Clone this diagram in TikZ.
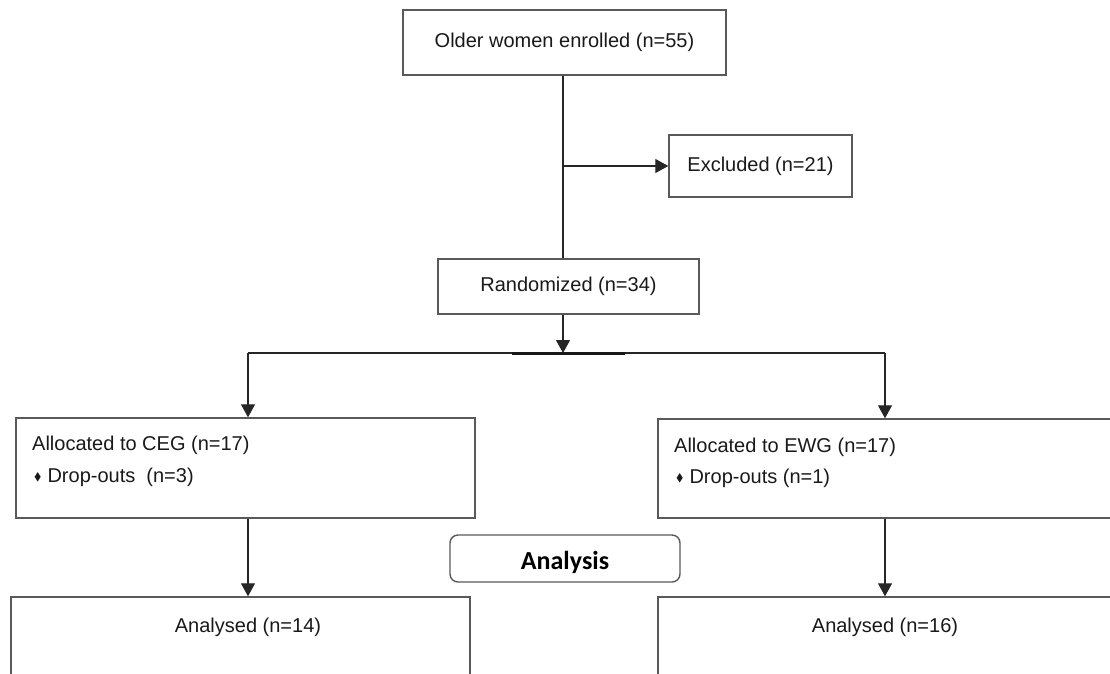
\documentclass[tikz,border=0pt]{standalone}
\usepackage{amssymb}
\usepackage{fontspec}
\setmainfont{Liberation Sans}
\newfontfamily\calib{Carlito}
\usetikzlibrary{arrows.meta,positioning}
\begin{document}
\begin{tikzpicture}[x=1pt,y=-1pt,
  box/.style={draw=black!65,line width=1.4pt,rectangle,inner sep=0pt},
  lbl/.style={font=\fontsize{20}{24}\selectfont,text=black!90,inner sep=0pt},
  conn/.style={draw=black!85,line width=1.1pt},
  arr/.style={conn,-{Triangle[width=14pt,length=13pt]}}]
\useasboundingbox (0,0) rectangle (1110,673);
\clip (0,0) rectangle (1110,673);
% boxes
\node[box,minimum width=323pt,minimum height=65pt] (top) at (564.5,42.5) {};
\node[lbl] at (top.center) {Older women enrolled (n=55)};
\node[box,minimum width=183pt,minimum height=62pt] (excl) at (760.5,166) {};
\node[lbl] at (excl.center) {Excluded (n=21)};
\node[box,minimum width=261pt,minimum height=55pt] (rand) at (568.5,286.5) {};
\node[lbl] at (rand.center) {Randomized (n=34)};
\node[box,minimum width=459pt,minimum height=100pt] (ceg) at (245.5,468) {};
\node[lbl,anchor=west] (cegt) at (32,445) {Allocated to CEG (n=17)};
\node[lbl,anchor=west] (cegd) at (34,477) {\raisebox{2pt}{\fontsize{11}{11}\selectfont$\blacklozenge$}\hspace{6pt}Drop-outs\ \ (n=3)};
\node[box,minimum width=472pt,minimum height=99pt] (ewg) at (894,468.5) {};
\node[lbl,anchor=west] (ewgt) at (674,447) {Allocated to EWG (n=17)};
\node[lbl,anchor=west] (ewgd) at (676,478) {\raisebox{2pt}{\fontsize{11}{11}\selectfont$\blacklozenge$}\hspace{6pt}Drop-outs (n=1)};
\node[draw=black!65,line width=1.4pt,rounded corners=8pt,minimum width=230pt,minimum height=47pt,inner sep=0pt] (ana) at (565,558.5) {};
\node[font=\calib\bfseries\fontsize{26}{30}\selectfont,inner sep=0pt] at (565,562) {Analysis};
\node[box,minimum width=459pt,minimum height=110pt] (al) at (240.5,652) {};
\node[lbl] at (248,627) {Analysed (n=14)};
\node[box,minimum width=472pt,minimum height=110pt] (ar) at (894,652) {};
\node[lbl] at (885,627) {Analysed (n=16)};
% connectors
\coordinate (split) at (563,353);
\coordinate (bl) at (248,353);
\coordinate (br) at (885,353);
\draw[conn] (563,0 |- top.south) -- (563,0 |- rand.north);
\draw[arr] (563,0 |- excl.west) -- (excl.west);
\draw[conn] (bl) -- (br);
\draw[draw=black!90,line width=3pt] (512,353) -- (625,353);
\draw[arr] (563,0 |- rand.south) -- (split);
\draw[arr] (bl) -- (bl |- ceg.north);
\draw[arr] (br) -- (br |- ewg.north);
\draw[arr] (bl |- ceg.south) -- (bl |- al.north);
\draw[arr] (br |- ewg.south) -- (br |- ar.north);
\end{tikzpicture}
\end{document}
